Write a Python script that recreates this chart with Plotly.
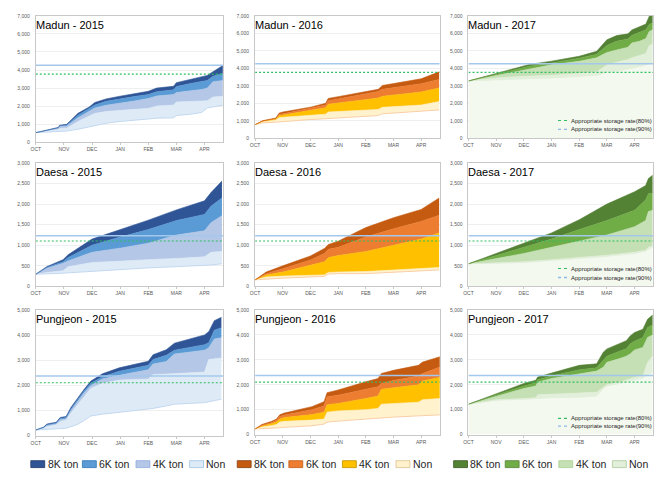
import plotly.graph_objects as go

W, H = 667, 479

# ---------------- data ----------------
months = ["OCT", "NOV", "DEC", "JAN", "FEB", "MAR", "APR"]
month_pos = [0, 1, 2, 3, 4, 5, 6]
reservoirs = ["Madun", "Daesa", "Pungjeon"]
years = ["2015", "2016", "2017"]
y_max = [7000, 3000, 5000]
y_step = [1000, 500, 1000]
rate80 = [3770, 1105, 2105]
rate90 = [4260, 1232, 2370]
series_names = ["8K ton", "6K ton", "4K ton", "Non"]

# x in months since Oct 1
madun_2015_x = [0, 0.5, 0.8, 0.85, 1.1, 1.5, 1.9, 2.1, 2.5, 3.0, 3.5, 4.0, 4.3, 4.9, 5.0, 5.5, 5.9, 6.1, 6.3, 6.65]
madun_2015_8k = [530, 720, 820, 940, 990, 1600, 1950, 2200, 2400, 2550, 2680, 2820, 3000, 3100, 3300, 3480, 3600, 3700, 3900, 4250]
madun_2015_6k = [530, 700, 800, 910, 960, 1500, 1850, 2060, 2270, 2420, 2530, 2640, 2800, 2900, 3080, 3250, 3350, 3420, 3650, 3800]
madun_2015_4k = [530, 680, 770, 870, 900, 1350, 1700, 1900, 2050, 2150, 2280, 2420, 2560, 2640, 2750, 2850, 2920, 3000, 3350, 3420]
madun_2015_non = [530, 640, 700, 760, 780, 1150, 1450, 1600, 1700, 1780, 1820, 1870, 2000, 2060, 2230, 2260, 2280, 2300, 2500, 2550]
madun_2015_base = [530, 560, 580, 600, 620, 720, 850, 950, 1050, 1150, 1220, 1280, 1330, 1350, 1480, 1550, 1650, 1900, 1950, 2050]

madun_2016_x = [0, 0.27, 0.75, 0.87, 1.0, 1.8, 2.0, 2.55, 2.64, 3.0, 3.6, 4.0, 4.45, 4.6, 5.0, 5.4, 6.0, 6.65]
madun_2016_8k = [780, 1000, 1160, 1440, 1500, 1720, 1780, 2000, 2280, 2380, 2560, 2680, 2800, 3020, 3120, 3210, 3400, 3800]
madun_2016_6k = [780, 990, 1130, 1370, 1400, 1650, 1710, 1900, 2150, 2250, 2440, 2560, 2680, 2800, 2880, 2980, 3120, 3360]
madun_2016_4k = [780, 980, 1100, 1300, 1330, 1560, 1620, 1750, 1950, 2020, 2150, 2220, 2300, 2400, 2460, 2550, 2650, 2880]
madun_2016_non = [780, 950, 1050, 1180, 1200, 1280, 1300, 1380, 1500, 1530, 1580, 1620, 1650, 1770, 1810, 1850, 1900, 2100]
madun_2016_base = [780, 880, 920, 940, 950, 1050, 1070, 1120, 1150, 1170, 1220, 1250, 1300, 1400, 1440, 1480, 1530, 1620]

madun_2017_x = [0, 1.0, 2.0, 2.2, 3.0, 4.0, 4.63, 4.87, 5.0, 5.35, 5.76, 5.9, 6.18, 6.41, 6.53, 6.65]
madun_2017_8k = [3280, 3710, 4130, 4220, 4410, 4690, 4970, 5440, 5630, 5870, 5970, 6190, 6380, 6530, 6980, 7000]
madun_2017_6k = [3280, 3650, 4030, 4120, 4300, 4580, 4800, 5150, 5300, 5550, 5680, 5880, 6050, 6200, 6500, 6600]
madun_2017_4k = [3280, 3600, 3900, 3980, 4200, 4400, 4600, 4800, 4900, 5050, 5200, 5450, 5550, 5700, 6100, 6200]
madun_2017_non = [3280, 3450, 3550, 3560, 3600, 3700, 3800, 4050, 4200, 4350, 4500, 4600, 4750, 4850, 5300, 5400]
madun_2017_base = [3280, 3320, 3400, 3410, 3450, 3550, 3600, 3700, 3800, 3850, 3950, 4000, 4100, 4200, 4300, 4300]

daesa_2015_x = [0, 0.39, 0.97, 1.15, 2.0, 3.0, 4.0, 5.0, 6.0, 6.23, 6.62]
daesa_2015_8k = [295, 480, 650, 770, 1150, 1380, 1610, 1860, 2080, 2280, 2560]
daesa_2015_6k = [295, 460, 600, 700, 1000, 1200, 1380, 1600, 1750, 1950, 2150]
daesa_2015_4k = [295, 440, 560, 620, 830, 930, 1050, 1250, 1350, 1550, 1720]
daesa_2015_non = [295, 340, 380, 480, 580, 620, 650, 680, 720, 830, 850]
daesa_2015_base = [295, 300, 320, 330, 370, 420, 450, 480, 500, 520, 550]

daesa_2016_x = [0, 0.4, 1.0, 2.0, 2.5, 2.65, 3.0, 4.0, 5.0, 6.0, 6.65]
daesa_2016_8k = [160, 350, 500, 740, 920, 1020, 1100, 1430, 1670, 1870, 2150]
daesa_2016_6k = [160, 310, 430, 640, 800, 900, 950, 1200, 1400, 1580, 1730]
daesa_2016_4k = [160, 280, 350, 520, 600, 700, 750, 850, 1000, 1150, 1300]
daesa_2016_non = [160, 230, 250, 270, 280, 340, 350, 360, 400, 430, 460]
daesa_2016_base = [160, 180, 200, 230, 240, 300, 310, 310, 340, 370, 400]

daesa_2017_x = [0, 1.0, 2.0, 3.0, 4.0, 5.0, 6.0, 6.4, 6.5, 6.65]
daesa_2017_8k = [550, 800, 1040, 1300, 1620, 2000, 2300, 2450, 2620, 2700]
daesa_2017_6k = [550, 750, 950, 1150, 1380, 1600, 1850, 2100, 2250, 2270]
daesa_2017_4k = [550, 680, 800, 950, 1100, 1250, 1450, 1600, 1820, 1850]
daesa_2017_non = [550, 570, 600, 650, 700, 760, 830, 880, 950, 980]
daesa_2017_base = [550, 560, 580, 630, 680, 730, 800, 860, 900, 950]

pungjeon_2015_x = [0, 0.27, 0.4, 0.73, 0.87, 1.08, 1.25, 1.5, 1.72, 1.96, 2.37, 2.97, 4.0, 4.17, 4.64, 4.93, 6.0, 6.15, 6.35, 6.6]
pungjeon_2015_8k = [220, 330, 460, 530, 720, 760, 1120, 1510, 1840, 2170, 2460, 2700, 2960, 3220, 3420, 3680, 4010, 4140, 4580, 4710]
pungjeon_2015_6k = [220, 320, 430, 500, 680, 720, 1060, 1450, 1780, 2080, 2340, 2560, 2800, 3030, 3200, 3400, 3620, 3700, 4200, 4300]
pungjeon_2015_4k = [220, 300, 400, 470, 630, 670, 1000, 1380, 1700, 1990, 2250, 2400, 2620, 2850, 2950, 3250, 3400, 3500, 3850, 3900]
pungjeon_2015_non = [220, 280, 360, 430, 560, 620, 900, 1250, 1580, 1880, 2080, 2210, 2250, 2430, 2450, 2470, 2530, 3030, 3050, 3090]
pungjeon_2015_base = [220, 230, 240, 260, 270, 290, 350, 450, 600, 780, 850, 920, 1050, 1080, 1180, 1250, 1310, 1340, 1400, 1450]

pungjeon_2016_x = [0, 0.24, 0.6, 0.77, 0.89, 1.05, 2.05, 2.49, 2.6, 3.0, 4.0, 4.44, 4.56, 5.0, 5.9, 6.05, 6.69]
pungjeon_2016_8k = [225, 400, 530, 620, 790, 860, 1120, 1320, 1680, 1790, 2120, 2250, 2450, 2580, 2780, 2910, 3130]
pungjeon_2016_6k = [225, 370, 480, 580, 720, 780, 1000, 1150, 1520, 1580, 1820, 1920, 2050, 2170, 2350, 2450, 2720]
pungjeon_2016_4k = [225, 340, 440, 500, 620, 680, 800, 900, 1200, 1250, 1450, 1550, 1820, 1880, 2000, 2150, 2300]
pungjeon_2016_non = [225, 300, 360, 400, 500, 530, 580, 620, 900, 950, 1000, 1050, 1220, 1250, 1300, 1400, 1450]
pungjeon_2016_base = [225, 230, 240, 250, 270, 290, 350, 420, 500, 540, 620, 650, 680, 700, 750, 760, 790]

pungjeon_2017_x = [0, 1.0, 2.0, 2.43, 2.5, 3.0, 4.0, 4.63, 4.87, 5.0, 5.46, 5.7, 5.85, 6.0, 6.3, 6.47, 6.65]
pungjeon_2017_8k = [1220, 1650, 2050, 2180, 2310, 2470, 2780, 2840, 3310, 3440, 3660, 3770, 3970, 4100, 4230, 4630, 4800]
pungjeon_2017_6k = [1220, 1600, 1950, 2080, 2200, 2350, 2600, 2680, 3000, 3150, 3350, 3450, 3650, 3750, 3900, 4300, 4400]
pungjeon_2017_4k = [1220, 1550, 1850, 1950, 2100, 2250, 2450, 2550, 2700, 2900, 3050, 3150, 3250, 3400, 3500, 3900, 4000]
pungjeon_2017_non = [1220, 1400, 1450, 1480, 1600, 1620, 1650, 1700, 1900, 2000, 2100, 2200, 2250, 2300, 2350, 2900, 3150]
pungjeon_2017_base = [1220, 1380, 1420, 1450, 1460, 1480, 1500, 1550, 1850, 1950, 2050, 2100, 2150, 2200, 2280, 2400, 2500]

panels = [
    [(madun_2015_x, madun_2015_base, madun_2015_non, madun_2015_4k, madun_2015_6k, madun_2015_8k),
     (madun_2016_x, madun_2016_base, madun_2016_non, madun_2016_4k, madun_2016_6k, madun_2016_8k),
     (madun_2017_x, madun_2017_base, madun_2017_non, madun_2017_4k, madun_2017_6k, madun_2017_8k)],
    [(daesa_2015_x, daesa_2015_base, daesa_2015_non, daesa_2015_4k, daesa_2015_6k, daesa_2015_8k),
     (daesa_2016_x, daesa_2016_base, daesa_2016_non, daesa_2016_4k, daesa_2016_6k, daesa_2016_8k),
     (daesa_2017_x, daesa_2017_base, daesa_2017_non, daesa_2017_4k, daesa_2017_6k, daesa_2017_8k)],
    [(pungjeon_2015_x, pungjeon_2015_base, pungjeon_2015_non, pungjeon_2015_4k, pungjeon_2015_6k, pungjeon_2015_8k),
     (pungjeon_2016_x, pungjeon_2016_base, pungjeon_2016_non, pungjeon_2016_4k, pungjeon_2016_6k, pungjeon_2016_8k),
     (pungjeon_2017_x, pungjeon_2017_base, pungjeon_2017_non, pungjeon_2017_4k, pungjeon_2017_6k, pungjeon_2017_8k)],
]

# ---------------- styles ----------------
palettes = [
    dict(c=["#2f5597", "#5b9bd5", "#b4c7e7", "#deebf7"], base_fill=None, base_line="#c3d8f0"),
    dict(c=["#c55a11", "#ed7d31", "#ffc000", "#fff2cc"], base_fill=None, base_line="#f8cfa8"),
    dict(c=["#548235", "#70ad47", "#c5e0b4", "#e2efda"], base_fill="#f4f9f0", base_line="#e2efda"),
]
legend_borders = [
    ["#203864", "#2e75b6", "#8faadc", "#9dc3e6"],
    ["#843c0c", "#c55a11", "#bf9000", "#d9c08c"],
    ["#385723", "#548235", "#a9d18e", "#a9c99a"],
]

X_END = 6.67
FONT = "Liberation Sans, Arial, sans-serif"
C80 = "#2fbf60"
C90 = "#a3c8ec"

col_x = [(31, 220), (252, 438), (467, 653)]
row_y = [[(13, 141), (13, 137), (13, 137)],
         [(162, 287), (162, 287), (162, 287)],
         [(311, 438), (311, 437), (311, 437)]]

fig = go.Figure()
layout = dict(
    width=W, height=H, margin=dict(l=0, r=0, t=0, b=0),
    paper_bgcolor="white", plot_bgcolor="white", showlegend=False,
    font=dict(family=FONT, color="#404040"),
)
annotations = []
shapes = []

for r in range(3):
    for c in range(3):
        idx = r * 3 + c + 1
        xs = "" if idx == 1 else str(idx)
        xa, ya = "x" + xs, "y" + xs
        x0, x1 = col_x[c]
        yt, yb = row_y[r][c]
        layout["xaxis" + xs] = dict(
            domain=[x0 / W, x1 / W], anchor=ya, range=[0, X_END],
            tickvals=month_pos, ticktext=months, showgrid=False, zeroline=False,
            showline=True, mirror=True, linecolor="#c8c8c8", linewidth=1,
            ticks="outside", ticklen=2, tickcolor="#c8c8c8",
            tickfont=dict(size=5, color="#595959", family=FONT), fixedrange=True,
        )
        layout["yaxis" + xs] = dict(
            domain=[1 - yb / H, 1 - yt / H], anchor=xa, range=[0, y_max[r]],
            dtick=y_step[r], tickformat=",d", showgrid=True, gridcolor="#efefef",
            gridwidth=1, zeroline=False, showline=True, mirror=True,
            linecolor="#c8c8c8", linewidth=1, ticks="", ticklabelstandoff=4,
            tickfont=dict(size=5, color="#595959", family=FONT), fixedrange=True,
        )
        pal = palettes[c]
        x, base, non, k4, k6, k8 = panels[r][c]
        fig.add_trace(go.Scatter(
            x=x, y=base, xaxis=xa, yaxis=ya, mode="lines",
            line=dict(color=pal["base_line"], width=1),
            fill="tozeroy" if pal["base_fill"] else "none",
            fillcolor=pal["base_fill"], hoverinfo="skip"))
        for vals, col in zip([non, k4, k6, k8], pal["c"][::-1]):
            fig.add_trace(go.Scatter(
                x=x, y=vals, xaxis=xa, yaxis=ya, mode="lines",
                line=dict(color=col, width=0.6), fill="tonexty",
                fillcolor=col, hoverinfo="skip"))
        fig.add_trace(go.Scatter(
            x=[0, X_END], y=[rate80[r], rate80[r]], xaxis=xa, yaxis=ya, mode="lines",
            line=dict(color=C80, width=1.1, dash="2px,2px"), hoverinfo="skip"))
        fig.add_trace(go.Scatter(
            x=[0, X_END], y=[rate90[r], rate90[r]], xaxis=xa, yaxis=ya, mode="lines",
            line=dict(color=C90, width=1.5, dash="solid"), hoverinfo="skip"))

        annotations.append(dict(
            text=f"{reservoirs[r]} - {years[c]}", xref=xa + " domain", yref=ya + " domain",
            x=0.0, y=1.0, xshift=-2, yshift=-1, xanchor="left", yanchor="top", showarrow=False,
            font=dict(size=11, color="#000000", family=FONT)))

        if c == 2:
            ly = [0.145, 0.072] if r < 2 else [0.13, 0.068]
            for k, (lab, colr, wd) in enumerate([
                    ("Appropriate storage rate(80%)", C80, 1.1),
                    ("Appropriate storage rate(90%)", "#8db8e6", 1.3)]):
                shapes.append(dict(type="line", xref=xa + " domain", yref=ya + " domain",
                                   x0=0.485, x1=0.54, y0=ly[k], y1=ly[k],
                                   line=dict(color=colr, width=wd, dash="dot")))
                annotations.append(dict(
                    text=lab, xref=xa + " domain", yref=ya + " domain",
                    x=0.543, y=ly[k], xanchor="left", yanchor="middle", showarrow=False,
                    font=dict(size=6, color="#262626", family=FONT)))

# ---------------- bottom legends ----------------
group_start = [26, 234, 452]
item_offset = [0, 52, 106, 160]
LEG_Y = 467
for g in range(3):
    for i, name in enumerate(series_names):
        bx = group_start[g] + item_offset[i]
        shapes.append(dict(type="rect", xref="paper", yref="paper",
                           x0=bx / W, x1=(bx + 14) / W,
                           y0=1 - (LEG_Y + 3.5) / H, y1=1 - (LEG_Y - 3.5) / H,
                           fillcolor=palettes[g]["c"][i],
                           line=dict(color=legend_borders[g][i], width=0.8)))
        annotations.append(dict(
            text=name, xref="paper", yref="paper", x=(bx + 15) / W, y=1 - LEG_Y / H,
            xanchor="left", yanchor="middle", showarrow=False,
            font=dict(size=10.5, color="#262626", family=FONT)))

layout["annotations"] = annotations
layout["shapes"] = shapes
fig.update_layout(**layout)
fig.write_html("out.html")
